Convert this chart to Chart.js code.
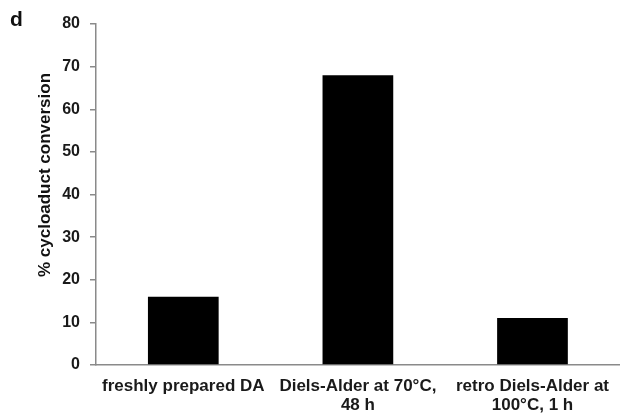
<!DOCTYPE html>
<html>
<head>
<meta charset="utf-8">
<script src="https://cdn.jsdelivr.net/npm/chart.js@4/dist/chart.umd.min.js"></script>
<style>
  html, body { margin: 0; padding: 0; background: #fff; }
  canvas { display: block; }
</style>
</head>
<body>
<canvas id="c" width="621" height="415"></canvas>
<script>
// Conditions and measured cycloadduct conversion (%)
const categories = [
  ["freshly prepared DA"],
  ["Diels-Alder at 70°C,", "48 h"],
  ["retro Diels-Alder at", "100°C, 1 h"]
];
const conversion = [16, 68, 11];
const yTicks = [0, 10, 20, 30, 40, 50, 60, 70, 80];

const FONT = "'Liberation Sans', Arial, sans-serif";
const AXIS = "#8a8a8a";

// Panel letter and rotated y-axis title
const annotations = {
  id: "annotations",
  afterDraw(chart) {
    const ctx = chart.ctx;
    ctx.save();
    ctx.fillStyle = "#111";
    ctx.font = "bold 21px " + FONT;
    ctx.textAlign = "left";
    ctx.textBaseline = "alphabetic";
    ctx.fillText("d", 10, 26);

    ctx.font = "bold 17px " + FONT;
    ctx.translate(45, 175);
    ctx.rotate(-Math.PI / 2);
    ctx.textAlign = "center";
    ctx.textBaseline = "middle";
    ctx.fillText("% cycloaduct conversion", 0, 0);
    ctx.restore();
  }
};

new Chart(document.getElementById("c"), {
  type: "bar",
  data: {
    labels: categories,
    datasets: [{
      data: conversion,
      backgroundColor: "#000",
      borderWidth: 0,
      barPercentage: 0.405,
      categoryPercentage: 1.0
    }]
  },
  options: {
    responsive: false,
    devicePixelRatio: 1,
    animation: false,
    layout: { padding: { top: 24, right: 0, bottom: 0, left: 0 } },
    plugins: { legend: { display: false }, tooltip: { enabled: false } },
    scales: {
      x: {
        offset: true,
        grid: { display: false, drawTicks: false },
        border: { display: true, color: AXIS, width: 1.5 },
        ticks: {
          color: "#1a1a1a",
          font: { family: FONT, size: 17, weight: "bold", lineHeight: 1.12 },
          padding: 12,
          maxRotation: 0,
          autoSkip: false
        },
        afterFit(scale) { scale.height = 50; }
      },
      y: {
        min: 0,
        max: 80,
        afterBuildTicks(scale) { scale.ticks = yTicks.map(v => ({ value: v })); },
        grid: { drawOnChartArea: false, drawTicks: true, tickLength: 6, color: AXIS, lineWidth: 1.5 },
        border: { display: true, color: AXIS, width: 1.5 },
        ticks: {
          color: "#1a1a1a",
          font: { family: FONT, size: 16, weight: "bold" },
          padding: 10
        },
        afterFit(scale) { scale.width = 96; }
      }
    }
  },
  plugins: [annotations]
});
</script>
</body>
</html>
